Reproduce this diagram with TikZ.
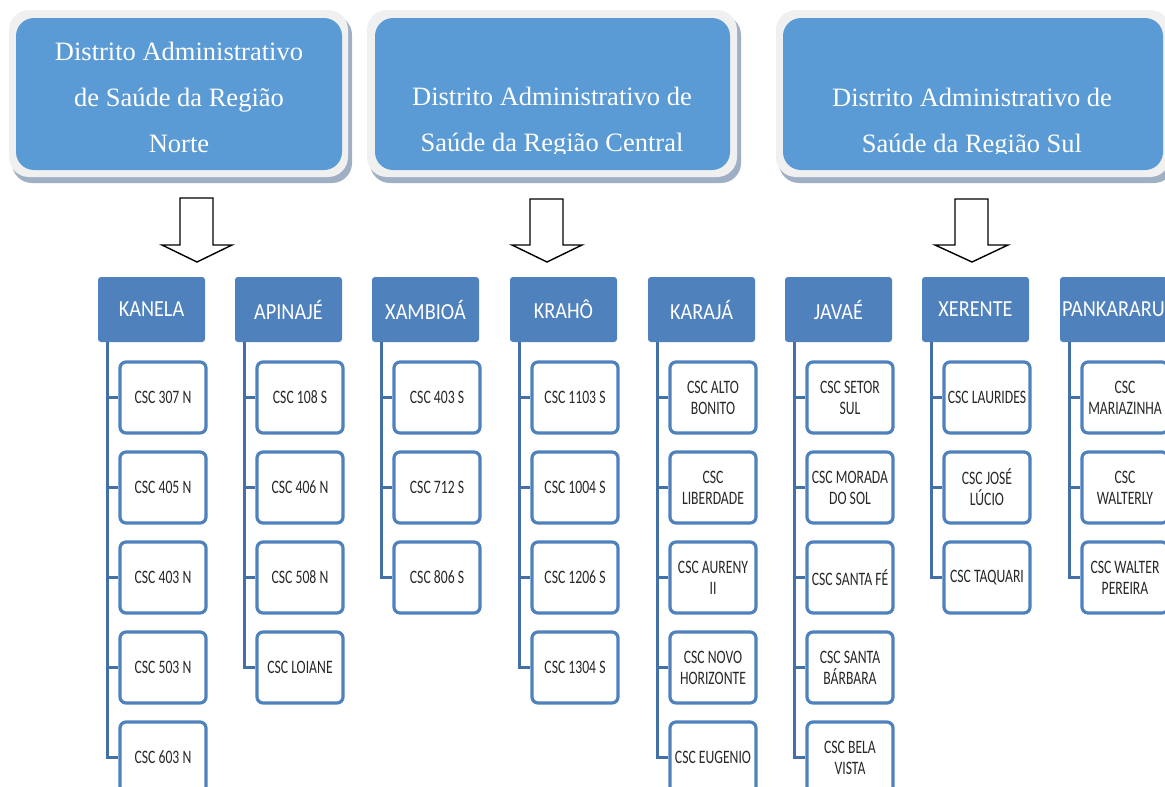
\documentclass[tikz,border=0pt]{standalone}
\usepackage{fontspec}
\setmainfont{Liberation Serif}
\newfontfamily\cfont[FakeStretch=0.72]{Carlito}
\newfontfamily\hfont[FakeStretch=0.88]{Carlito}
\definecolor{topblue}{RGB}{91,155,213}
\definecolor{hdrblue}{RGB}{79,129,189}
\definecolor{linkblue}{RGB}{68,112,168}
\definecolor{shadowc}{RGB}{160,176,196}
\definecolor{rimc}{RGB}{240,240,240}
\definecolor{txtc}{RGB}{40,40,40}
\tikzset{
  distbox/.style={fill=topblue, rounded corners=18pt, inner sep=0pt},
  disttext/.style={anchor=base, text=white, inner sep=0pt, font=\fontsize{26.5}{30}\selectfont},
  blockarrow/.style={fill=white, draw=black, line width=1.4pt, line join=miter},
  hdr/.style={fill=hdrblue, rounded corners=3pt, minimum width=107pt, minimum height=65pt, inner sep=0pt, text=white, font=\hfont\fontsize{23}{24}\selectfont},
  kid/.style={draw=hdrblue, line width=3.2pt, fill=white, rounded corners=6pt, minimum width=86pt, minimum height=71pt, inner sep=1pt, align=center, text=txtc, font=\cfont\fontsize{19}{21}\selectfont},
  link/.style={draw=linkblue, line width=3.2pt}
}
\begin{document}
\begin{tikzpicture}[x=1pt,y=-1pt]
\useasboundingbox (0,0) rectangle (1165,787);
\clip (0,0) rectangle (1165,787);
\fill[white] (0,0) rectangle (1165,787);

% ---- top district boxes ----
\fill[shadowc, rounded corners=20pt] (12,15) rectangle (352,183);
\fill[rimc, rounded corners=20pt] (9,10) rectangle (348,177);
\node[distbox, minimum width=326pt, minimum height=152pt] (d1) at (179,94) {};
\node[disttext] (d1a) at (179,60) {Distrito Administrativo};
\node[disttext] (d1b) at (179,106) {de Saúde da Região};
\node[disttext] (d1c) at (179,152) {Norte};

\fill[shadowc, rounded corners=20pt] (370,15) rectangle (741,183);
\fill[rimc, rounded corners=20pt] (367,10) rectangle (737,177);
\node[distbox, minimum width=355pt, minimum height=152pt] (d2) at (552.5,94) {};
\begin{scope}
\clip (367,10) rectangle (737,153);
\node[disttext] (d2a) at (552,105) {Distrito Administrativo de};
\node[disttext] (d2b) at (552,151) {Saúde da Região Central};
\end{scope}

\fill[shadowc, rounded corners=20pt] (779,15) rectangle (1174,183);
\fill[rimc, rounded corners=20pt] (776,10) rectangle (1170,177);
\node[distbox, minimum width=380pt, minimum height=152pt] (d3) at (973,94) {};
\begin{scope}
\clip (776,10) rectangle (1170,153);
\node[disttext] (d3a) at (972,106) {Distrito Administrativo de};
\node[disttext] (d3b) at (972,152) {Saúde da Região Sul};
\end{scope}

% ---- block arrows ----
\draw[blockarrow] (180,198) -- (213,198) -- (213,245) -- (232,245) -- (197,262) -- (162,245) -- (180,245) -- cycle;
\draw[blockarrow] (530,199) -- (563,199) -- (563,245) -- (582,245) -- (547,262) -- (512,245) -- (530,245) -- cycle;
\draw[blockarrow] (955,199) -- (988,199) -- (988,245) -- (1008,245) -- (972,262) -- (935,245) -- (955,245) -- cycle;

% ---- headers ----
\node[hdr] (h1) at (151.5,309.5) {KANELA};
\node[hdr] (h2) at (288.5,309.5) {APINAJÉ};
\node[hdr] (h3) at (425.5,309.5) {XAMBIOÁ};
\node[hdr] (h4) at (563.5,309.5) {KRAHÔ};
\node[hdr] (h5) at (701.5,309.5) {KARAJÁ};
\node[hdr] (h6) at (838.5,309.5) {JAVAÉ};
\node[hdr] (h7) at (975.5,309.5) {XERENTE};
\node[hdr] (h8) at (1113.5,309.5) {PANKARARU};

% ---- children ----
\foreach \t [count=\k] in {CSC 307 N, CSC 405 N, CSC 403 N, CSC 503 N, CSC 603 N}
  \node[kid] (c1-\k) at (163,{397.5+90*(\k-1)}) {\t};
\foreach \t [count=\k] in {CSC 108 S, CSC 406 N, CSC 508 N, CSC LOIANE}
  \node[kid] (c2-\k) at (300,{397.5+90*(\k-1)}) {\t};
\foreach \t [count=\k] in {CSC 403 S, CSC 712 S, CSC 806 S}
  \node[kid] (c3-\k) at (437,{397.5+90*(\k-1)}) {\t};
\foreach \t [count=\k] in {CSC 1103 S, CSC 1004 S, CSC 1206 S, CSC 1304 S}
  \node[kid] (c4-\k) at (575,{397.5+90*(\k-1)}) {\t};
\foreach \t [count=\k] in {{CSC ALTO\\BONITO}, {CSC\\LIBERDADE}, {CSC AURENY\\II}, {CSC NOVO\\HORIZONTE}, {CSC EUGENIO}}
  \node[kid] (c5-\k) at (713,{397.5+90*(\k-1)}) {\t};
\foreach \t [count=\k] in {{CSC SETOR\\SUL}, {CSC MORADA\\DO SOL}, {CSC SANTA FÉ}, {CSC SANTA\\BÁRBARA}, {CSC BELA\\VISTA}}
  \node[kid] (c6-\k) at (850,{397.5+90*(\k-1)}) {\t};
\foreach \t [count=\k] in {CSC LAURIDES, {CSC JOSÉ\\LÚCIO}, CSC TAQUARI}
  \node[kid] (c7-\k) at (987,{397.5+90*(\k-1)}) {\t};
\foreach \t [count=\k] in {{CSC\\MARIAZINHA}, {CSC\\WALTERLY}, {CSC WALTER\\PEREIRA}}
  \node[kid] (c8-\k) at (1125,{397.5+90*(\k-1)}) {\t};

% ---- connectors ----
\foreach \h/\n in {1/5, 2/4, 3/3, 4/4, 5/5, 6/5, 7/3, 8/3}
  \foreach \k in {1,...,\n}
    \draw[link] ([xshift=10pt]h\h.south west) |- (c\h-\k.west);
\end{tikzpicture}
\end{document}
